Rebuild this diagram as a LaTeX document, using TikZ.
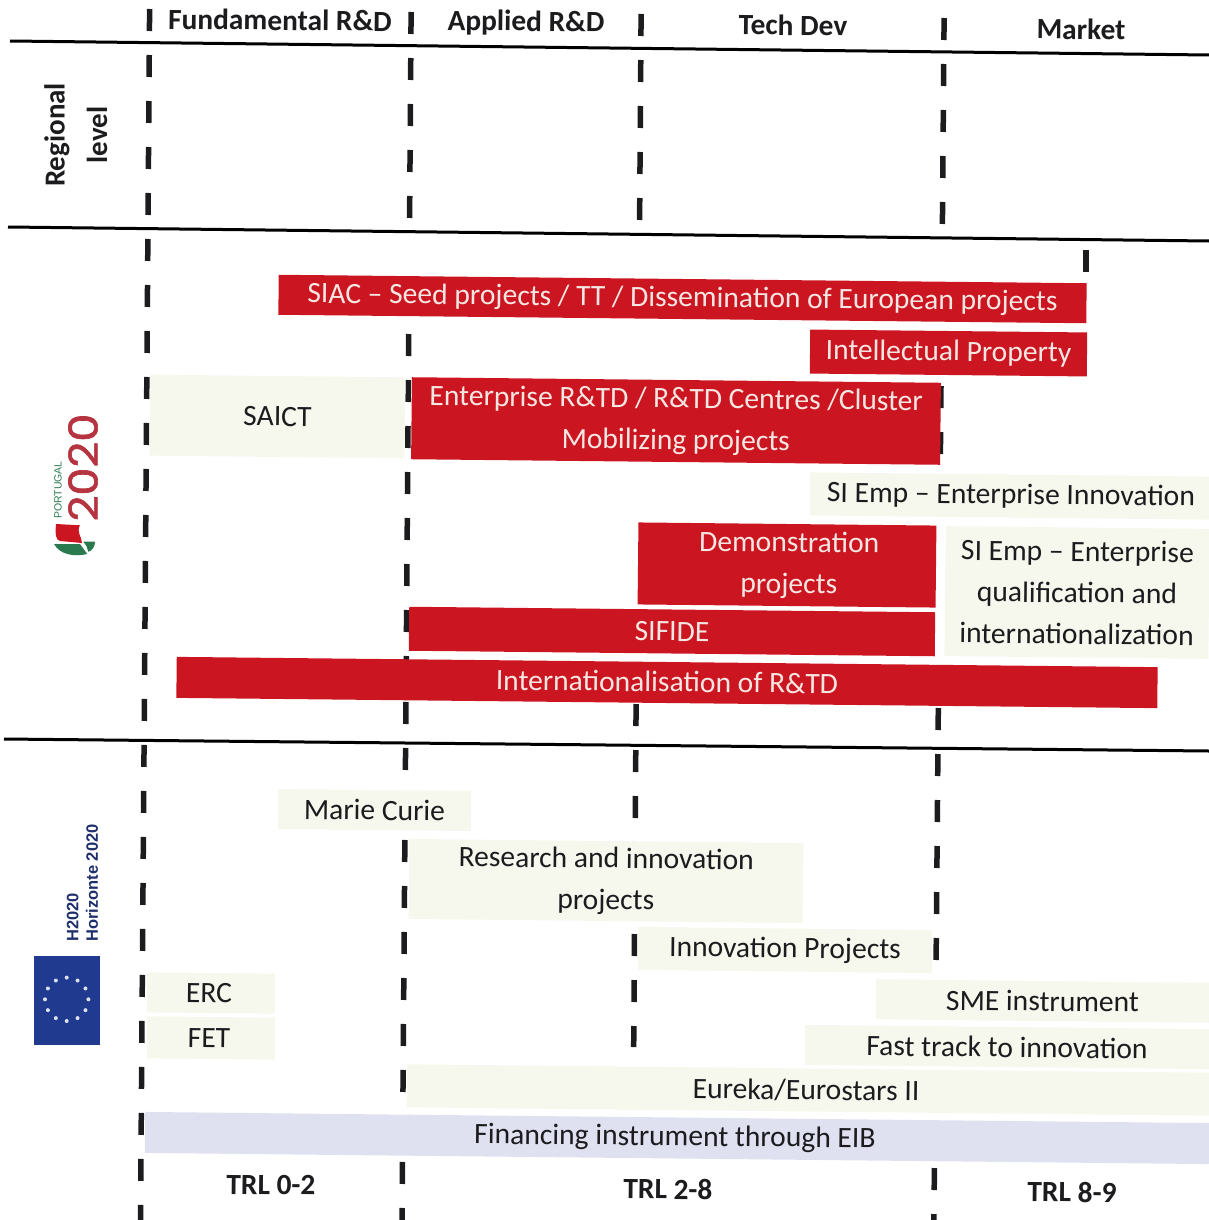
\documentclass[tikz,border=0pt]{standalone}
\usepackage{fontspec}
\setmainfont{Carlito}
\newfontfamily\logofont[FakeBold=1.5]{Poppins}
\newfontfamily\labelfont{Liberation Sans}
\definecolor{barred}{HTML}{CB1520}
\definecolor{barpale}{HTML}{F6F8EE}
\definecolor{barblue}{HTML}{DFE1F0}
\definecolor{inkblack}{HTML}{1C1C1F}
\definecolor{paletext}{HTML}{F6E6E2}
\definecolor{logored}{HTML}{B5343F}
\definecolor{logogreen}{HTML}{2A7A50}
\definecolor{flagblue}{HTML}{1F3A8F}
\definecolor{h2020blue}{HTML}{1E2F6B}
\tikzset{
  tilted/.style={rotate=-0.6},
  anybar/.style={tilted,inner sep=0pt,align=center,font=\fontsize{29.6}{41.5}\selectfont},
  redbar/.style={anybar,fill=barred,text=paletext},
  palebar/.style={anybar,fill=barpale,text=inkblack},
  bluebar/.style={anybar,fill=barblue,text=inkblack},
  headtext/.style={tilted,inner sep=0pt,text=inkblack,font=\fontsize{29.4}{32}\selectfont\bfseries},
  sidetext/.style={rotate=90,inner sep=0pt,text=inkblack,font=\fontsize{29}{32}\selectfont\bfseries},
  tickline/.style={draw=inkblack,line width=5.5pt,dash pattern=on 22pt off 24pt},
  rulerline/.style={draw=black,line width=3pt},
}
\begin{document}
\begin{tikzpicture}[x=1pt,y=-1pt]
\useasboundingbox (0,0) rectangle (1209,1220);
% rules
\coordinate (r1a) at (10,41);  \coordinate (r1b) at (1209,55);
\coordinate (r2a) at (8,227);  \coordinate (r2b) at (1209,241);
\coordinate (r3a) at (4,739);  \coordinate (r3b) at (1209,751);
\draw[rulerline] (r1a) -- (r1b);
\draw[rulerline] (r2a) -- (r2b);
\draw[rulerline] (r3a) -- (r3b);
% dashed column lines
\coordinate (a1) at (149.6,9);    \coordinate (a2) at (140.5,1220);
\coordinate (b1) at (411.1,12);   \coordinate (b2) at (409.6,218);
\coordinate (b3) at (408.7,334);  \coordinate (b4) at (402,1220);
\coordinate (c1) at (641.1,14);   \coordinate (c2) at (639.6,221);
\coordinate (c3) at (636.1,704);  \coordinate (c4) at (633.7,1047);
\coordinate (d1) at (944.1,18);   \coordinate (d2) at (942.4,225);
\coordinate (d3) at (941,386);    \coordinate (d4) at (940.4,454);
\coordinate (d5) at (938.3,708);  \coordinate (d6) at (936.1,960);
\coordinate (d7) at (934.4,1168); \coordinate (d8) at (933.9,1220);
\coordinate (m1) at (1086,250);   \coordinate (m2) at (1086,272);
\draw[tickline] (a1) -- (a2);
\draw[tickline] (b1) -- (b2);
\draw[tickline] (b3) -- (b4);
\draw[tickline] (c1) -- (c2);
\draw[tickline] (c3) -- (c4);
\draw[tickline] (d1) -- (d2);
\draw[tickline] (d3) -- (d4);
\draw[tickline] (d5) -- (d6);
\draw[tickline] (d7) -- (d8);
\draw[tickline] (m1) -- (m2);
% headers
\node (hfund) [headtext] at (280,20) {Fundamental R\&D};
\node (happ)  [headtext] at (526,23) {Applied R\&D};
\node (htech) [headtext] at (793,25) {Tech Dev};
\node (hmark) [headtext] at (1081,29) {Market};
\node (sreg)  [sidetext] at (57,135) {Regional};
\node (slev)  [sidetext] at (97,135) {level};
% Portugal 2020 bars
\node (saict) [palebar,minimum width=255pt,minimum height=81pt] at (277.5,416.5) {SAICT};
\node (siinn) [palebar,minimum width=399pt,minimum height=43pt] at (1009.5,496) {\hspace*{3pt}SI Emp – Enterprise Innovation};
\node (siq)   [palebar,minimum width=264pt,minimum height=130pt] at (1077,592.5) {SI Emp – Enterprise\\qualification and\\internationalization};
\node (siac)  [redbar,minimum width=808pt,minimum height=40pt] at (682.5,299) {SIAC – Seed projects / TT / Dissemination of European projects};
\node (ip)    [redbar,minimum width=277pt,minimum height=44pt] at (948.5,353) {Intellectual Property};
\node (ent)   [redbar,minimum width=529pt,minimum height=82pt] at (676,421) {Enterprise R\&TD / R\&TD Centres /Cluster\\Mobilizing projects};
\node (demo)  [redbar,minimum width=298pt,minimum height=82pt] at (787,565) {\hspace*{4pt}Demonstration\\\hspace*{4pt}projects};
\node (sif)   [redbar,minimum width=526pt,minimum height=44pt] at (672,631.5) {SIFIDE};
\node (intl)  [redbar,minimum width=981pt,minimum height=41pt] at (667,682.5) {\raisebox{2pt}{Internationalisation of R\&TD}};
% H2020 bars
\node (marie) [palebar,minimum width=193pt,minimum height=40pt] at (374.5,810) {Marie Curie};
\node (res)   [palebar,minimum width=394pt,minimum height=80pt] at (606,881) {Research and innovation\\projects};
\node (innp)  [palebar,minimum width=294pt,minimum height=43pt] at (785,950) {\raisebox{-2pt}{Innovation Projects}};
\node (erc)   [palebar,minimum width=128pt,minimum height=40pt] at (211,993) {\hspace*{-4pt}ERC};
\node (fet)   [palebar,minimum width=128pt,minimum height=42pt] at (211,1038) {\hspace*{-4pt}FET};
\node (sme)   [palebar,minimum width=333pt,minimum height=40pt] at (1042.5,1001) {SME instrument};
\node (fast)  [palebar,minimum width=404pt,minimum height=40pt] at (1007,1047) {Fast track to innovation};
\node (eur)   [palebar,minimum width=802pt,minimum height=43pt] at (808,1090) {\hspace*{-4pt}Eureka/Eurostars II};
\node (eib)   [bluebar,minimum width=1064pt,minimum height=41pt] at (677,1138) {\hspace*{-4pt}Financing instrument through EIB};
% TRL
\node (t1) [headtext] at (271,1185) {TRL 0-2};
\node (t2) [headtext] at (668,1189) {TRL 2-8};
\node (t3) [headtext] at (1072,1192) {TRL 8-9};
% Portugal 2020 logo
\node (p2020) [rotate=90,xscale=1.12,inner sep=0pt,text=logored,font=\logofont\fontsize{40}{41}\selectfont] at (83,467.5) {2020};
\node (ptg) [rotate=90,inner sep=0pt,anchor=west,text=logogreen,font=\labelfont\fontsize{10.5}{12}\selectfont] at (58,519) {PORTUGAL};
\fill[barred] (56,524) -- (80,525.3) .. controls (76,532) and (82,537) .. (82,543) -- (60,541) .. controls (56,540) and (55,535) .. (56,524) -- cycle;
\fill[logogreen] (54,544) -- (80,544) -- (87.3,554) .. controls (75,557) and (60,555) .. (54,544) -- cycle;
\fill[logogreen] (83.3,541.7) -- (95,541.7) .. controls (95,547) and (92,551) .. (88.3,551.7) .. controls (88,548) and (86,545) .. (83.3,541.7) -- cycle;
% EU flag
\fill[flagblue] (34,955.7) rectangle (100,1045);
\foreach \k in {0,30,...,330} {
  \fill[white!85!flagblue] ({66.7+21.7*cos(\k)},{999.3+21.7*sin(\k)}) circle (2pt);
}
\node (h1) [rotate=90,inner sep=0pt,anchor=west,text=h2020blue,font=\labelfont\bfseries\fontsize{16.5}{18}\selectfont] at (72.7,942) {H2020};
\node (h2) [rotate=90,inner sep=0pt,anchor=west,text=h2020blue,font=\labelfont\bfseries\fontsize{16.5}{18}\selectfont] at (92,942) {Horizonte 2020};
\end{tikzpicture}
\end{document}
